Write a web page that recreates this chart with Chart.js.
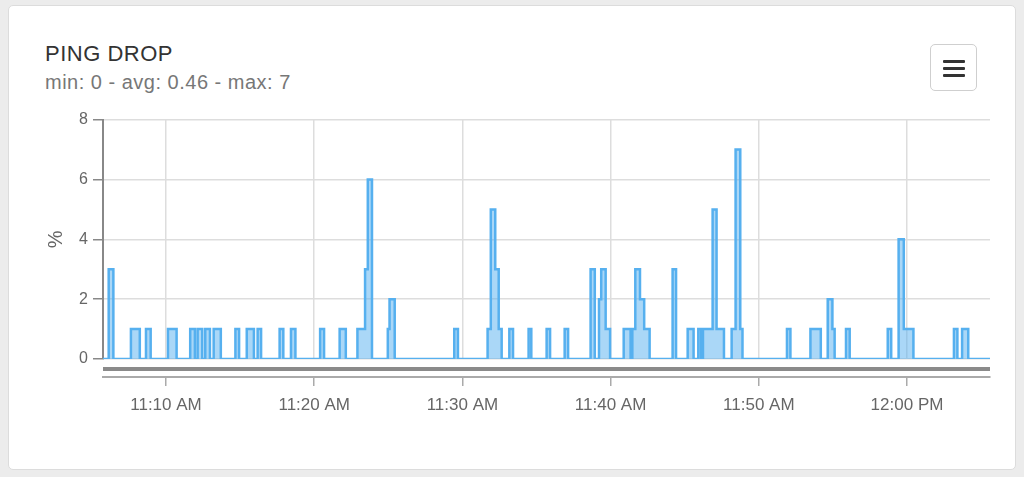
<!DOCTYPE html>
<html>
<head>
<meta charset="utf-8">
<script src="https://cdn.jsdelivr.net/npm/chart.js@4.4.1/dist/chart.umd.min.js"></script>
<style>
  html, body { margin: 0; padding: 0; }
  body { width: 1024px; height: 477px; background: #ececec; position: relative; overflow: hidden; font-family: "Liberation Sans", Arial, sans-serif; }
  .card { position: absolute; left: 8px; top: 5px; width: 1006px; height: 463px; background: #fff; border: 1px solid #dcdcdc; border-radius: 5px; }
  .title { position: absolute; left: 45px; top: 41px; font-size: 22px; color: #333; letter-spacing: 0.5px; line-height: 25px; }
  .sub { position: absolute; left: 45px; top: 71px; font-size: 20px; color: #777; letter-spacing: 0.5px; line-height: 23px; }
  .menu { position: absolute; left: 930px; top: 44px; width: 45px; height: 45px; border: 1px solid #cfcfcf; border-radius: 5px; background: #fff; }
  .menu span { position: absolute; left: 12px; width: 22px; height: 3px; background: #333; border-radius: 1px; }
  .chartbox { position: absolute; left: 30px; top: 105px; width: 975px; height: 320px; }
</style>
</head>
<body>
<div class="card"></div>
<div class="title">PING DROP</div>
<div class="sub">min: 0 - avg: 0.46 - max: 7</div>
<div class="menu"><span style="top:15px"></span><span style="top:22px"></span><span style="top:29px"></span></div>
<div class="chartbox"><canvas id="c"></canvas></div>
<script>
// Change points of the stepped series: each value holds until the next time.
const changeTimes = [
  "11:05:45","11:06:08","11:06:27","11:07:38","11:08:14","11:08:39","11:08:58",
  "11:10:08","11:10:43","11:11:38","11:11:57","11:12:08","11:12:27","11:12:39",
  "11:12:58","11:13:13","11:13:42","11:14:41","11:14:56","11:15:27","11:15:56",
  "11:16:11","11:16:25","11:17:40","11:17:55","11:18:26","11:18:44","11:20:24",
  "11:20:40","11:21:43","11:22:08","11:22:55","11:23:26","11:23:37","11:23:54",
  "11:24:58","11:25:05","11:25:26","11:29:27","11:29:42","11:31:42","11:31:55",
  "11:32:13","11:32:27","11:32:39","11:33:10","11:33:25","11:34:28","11:34:39",
  "11:35:41","11:35:55","11:36:54","11:37:08","11:38:39","11:38:56","11:39:13",
  "11:39:22","11:39:40","11:39:58","11:40:53","11:41:21","11:41:28","11:41:40",
  "11:41:59","11:42:16","11:42:38","11:44:11","11:44:25","11:45:12","11:45:36",
  "11:45:55","11:46:06","11:46:14","11:46:53","11:47:09","11:47:39","11:48:10",
  "11:48:26","11:48:45","11:48:54","11:51:54","11:52:08","11:53:29","11:54:11",
  "11:54:39","11:54:58","11:55:07","11:55:53","11:56:08","11:58:42","11:58:56",
  "11:59:26","11:59:47","12:00:26","12:03:10","12:03:24","12:03:43","12:04:08",
  "12:05:36"
];
const changeValues = [
  0,3,0,1,0,1,0,
  1,0,1,0,1,0,1,
  0,1,0,1,0,1,0,
  1,0,1,0,1,0,1,
  0,1,0,1,3,6,0,
  1,2,0,1,0,1,5,
  3,1,0,1,0,1,0,
  1,0,1,0,3,0,2,
  3,1,0,1,0,1,3,
  2,1,0,3,0,1,0,
  1,0,1,5,1,0,1,
  7,1,0,1,0,1,0,
  2,1,0,1,0,1,0,
  4,1,0,1,0,1,0,
  0
];
const tickTimes = ["11:10:00","11:20:00","11:30:00","11:40:00","11:50:00","12:00:00"];
const tickLabels = ["11:10 AM","11:20 AM","11:30 AM","11:40 AM","11:50 AM","12:00 PM"];
const yTicks = [0, 2, 4, 6, 8];

function toSec(t) {
  const p = t.split(":").map(Number);
  return (p[0] - 11) * 3600 + p[1] * 60 + p[2];
}
const points = changeTimes.map((t, i) => ({ x: toSec(t), y: changeValues[i] }));
const tickSecs = tickTimes.map(toSec);
const xMin = toSec(changeTimes[0]);
const xMax = toSec(changeTimes[changeTimes.length - 1]);

const rangeBar = {
  id: 'rangeBar',
  afterDraw(chart) {
    const a = chart.chartArea, ctx = chart.ctx;
    ctx.save();
    ctx.fillStyle = '#8a8a8a';
    ctx.fillRect(a.left, a.bottom + 8, a.right - a.left, 4);
    ctx.restore();
  }
};

new Chart(document.getElementById('c'), {
  type: 'line',
  data: {
    datasets: [{
      data: points,
      stepped: true,
      fill: 'origin',
      borderColor: '#56b0ef',
      backgroundColor: 'rgba(86,176,239,0.5)',
      borderWidth: 2.5,
      pointRadius: 0,
      tension: 0
    }]
  },
  plugins: [rangeBar],
  options: {
    responsive: true,
    maintainAspectRatio: false,
    animation: false,
    layout: { padding: { left: 0, top: 14, right: 15, bottom: 6 } },
    plugins: { legend: { display: false }, tooltip: { enabled: false } },
    scales: {
      x: {
        type: 'linear',
        min: xMin, max: xMax,
        afterBuildTicks: s => { s.ticks = tickSecs.map(v => ({ value: v })); },
        afterFit: s => { s.height = 18; },
        ticks: { display: false },
        grid: { color: '#dddddd', lineWidth: 1.5, drawTicks: false },
        border: { display: false }
      },
      x2: {
        type: 'linear',
        position: 'bottom',
        min: xMin, max: xMax,
        afterBuildTicks: s => { s.ticks = tickSecs.map(v => ({ value: v })); },
        afterFit: s => { s.height = 42; },
        ticks: {
          callback: v => { const i = tickSecs.indexOf(v); return i >= 0 ? tickLabels[i] : ''; },
          color: '#666', font: { family: 'Liberation Sans', size: 17 }, padding: 9, maxRotation: 0
        },
        grid: { drawOnChartArea: false, drawTicks: true, tickLength: 9, color: '#aaaaaa', lineWidth: 1.5 },
        border: { display: true, color: '#aaaaaa', width: 2 }
      },
      y: {
        min: 0, max: 8,
        afterBuildTicks: s => { s.ticks = yTicks.map(v => ({ value: v })); },
        afterFit: s => { s.width = 73; },
        ticks: { color: '#666', font: { family: 'Liberation Sans', size: 16 }, padding: 5 },
        grid: { color: '#dddddd', lineWidth: 1.5, tickLength: 10, tickColor: '#888' },
        border: { display: true, color: '#888', width: 2 },
        title: { display: true, text: '%', color: '#666', font: { family: 'Liberation Sans', size: 20 }, padding: { top: 14, bottom: 0 } }
      }
    }
  }
});
</script>
</body>
</html>
